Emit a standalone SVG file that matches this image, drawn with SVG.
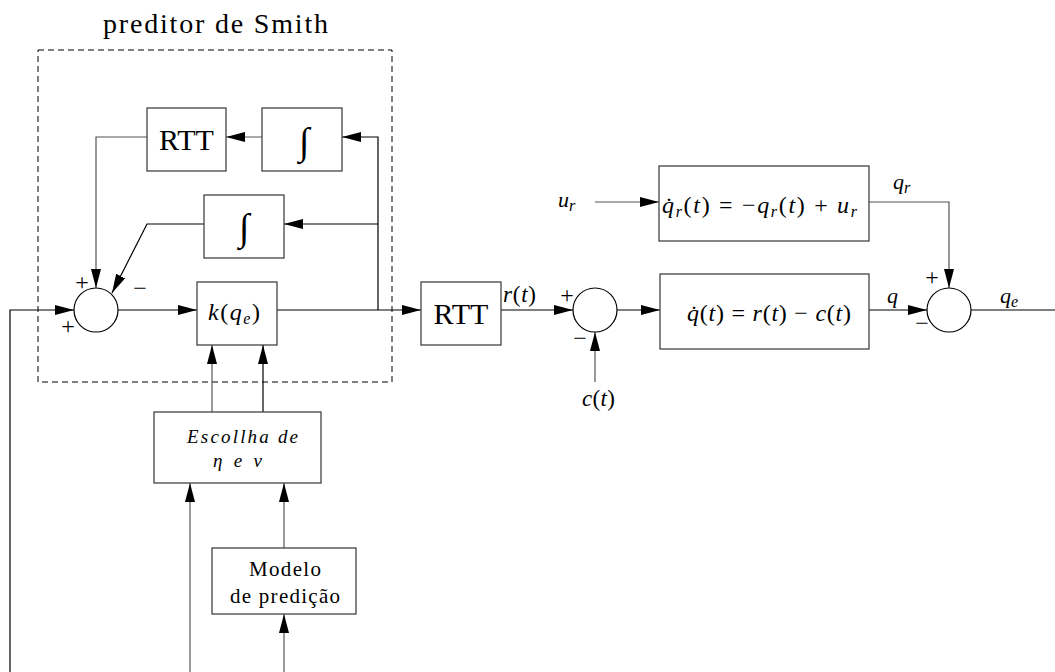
<svg xmlns="http://www.w3.org/2000/svg" width="1055" height="672" viewBox="0 0 1055 672">
<defs>
<style>
.box{fill:#fff;stroke:#444;stroke-width:1.3}
.ln{fill:none;stroke:#000;stroke-width:1.2}
.g{stroke:#555}
.t{font-family:"Liberation Serif","DejaVu Serif",serif;fill:#000}
.m{font-style:italic}
</style>
<marker id="ah" markerWidth="19" markerHeight="10" refX="19" refY="5" orient="auto" markerUnits="userSpaceOnUse">
<path d="M0,0 L19,5 L0,10 z" fill="#000"/>
</marker>
</defs>
<rect width="1055" height="672" fill="#fff"/>

<g id="smith-frame">
<rect x="38" y="50" width="354" height="332" fill="none" stroke="#000" stroke-width="1" stroke-dasharray="6,4"/>
<text class="t" x="103" y="33" font-size="28" textLength="225" lengthAdjust="spacing">preditor de Smith</text>
</g>

<g id="connectors">
<path class="ln" d="M10,672 V310 H74" marker-end="url(#ah)"/>
<path class="ln" d="M118,310 H197" marker-end="url(#ah)"/>
<path class="ln" d="M277,310 H421" marker-end="url(#ah)"/>
<path class="ln" d="M378,310 V137 H342" marker-end="url(#ah)"/>
<path class="ln" d="M378,224 H284" marker-end="url(#ah)"/>
<path class="ln g" d="M262,137 H226" marker-end="url(#ah)"/>
<path class="ln g" d="M147,137 H96 V288" marker-end="url(#ah)"/>
<path class="ln" d="M204,224 H147 L112,293" marker-end="url(#ah)"/>
<path class="ln g" d="M212,412 V345" marker-end="url(#ah)"/>
<path class="ln" d="M263,412 V345" marker-end="url(#ah)"/>
<path class="ln g" d="M190,672 V483" marker-end="url(#ah)"/>
<path class="ln g" d="M284,548 V483" marker-end="url(#ah)"/>
<path class="ln g" d="M284,672 V614" marker-end="url(#ah)"/>
<path class="ln" d="M501,310 H573" marker-end="url(#ah)"/>
<path class="ln g" d="M595,382 V332" marker-end="url(#ah)"/>
<path class="ln" d="M617,310 H660" marker-end="url(#ah)"/>
<path class="ln g" d="M595,202 H659" marker-end="url(#ah)"/>
<path class="ln g" d="M869,202 H949 V288" marker-end="url(#ah)"/>
<path class="ln" d="M869,310 H927" marker-end="url(#ah)"/>
<path class="ln" d="M971,310 H1055"/>
</g>

<g id="sum1">
<circle cx="96" cy="310" r="22" fill="#fff" stroke="#000" stroke-width="1.2"/>
<text class="t" x="82" y="290" font-size="24" text-anchor="middle" fill="#000">+</text>
<text class="t" x="68" y="334" font-size="24" text-anchor="middle" fill="#000">+</text>
<text class="t" x="140" y="296" font-size="24" text-anchor="middle" fill="#000">−</text>
</g>

<g id="rtt-inner">
<rect class="box" x="147" y="108" width="79" height="63"/>
<text class="t" x="186.5" y="150" font-size="30" text-anchor="middle">RTT</text>
</g>

<g id="int-top">
<rect class="box" x="262" y="108" width="80" height="63"/>
<text class="t m" x="304" y="154" font-size="38" text-anchor="middle">∫</text>
</g>

<g id="int-mid">
<rect class="box" x="204" y="195" width="80" height="63"/>
<text class="t m" x="244" y="240" font-size="38" text-anchor="middle">∫</text>
</g>

<g id="k">
<rect class="box" x="197" y="282" width="80" height="63"/>
<text class="t" x="208" y="320" font-size="24" textLength="52" lengthAdjust="spacing"><tspan class="m">k</tspan>(<tspan class="m">q</tspan><tspan class="m" font-size="16" dy="4">e</tspan><tspan dy="-4">)</tspan></text>
</g>

<g id="escolha">
<rect class="box" x="154" y="412" width="167" height="71"/>
<text class="t m" x="187" y="443" font-size="19" textLength="111" lengthAdjust="spacing">Escollha de</text>
<text class="t m" x="213" y="467" font-size="19" textLength="49" lengthAdjust="spacing">η e ν</text>
</g>

<g id="modelo">
<rect class="box" x="212" y="548" width="144" height="66"/>
<text class="t" x="249" y="576" font-size="21" textLength="72" lengthAdjust="spacing">Modelo</text>
<text class="t" x="230" y="603" font-size="21" textLength="110" lengthAdjust="spacing">de predição</text>
</g>

<g id="rtt-main">
<rect class="box" x="421" y="282" width="80" height="63"/>
<text class="t" x="461" y="324" font-size="30" text-anchor="middle">RTT</text>
<text class="t" x="503" y="302" font-size="23" textLength="33" lengthAdjust="spacing"><tspan class="m">r</tspan>(<tspan class="m">t</tspan>)</text>
</g>

<g id="sum2">
<circle cx="595" cy="310" r="22" fill="#fff" stroke="#000" stroke-width="1.2"/>
<text class="t" x="567" y="303" font-size="24" text-anchor="middle" fill="#000">+</text>
<text class="t" x="580" y="346" font-size="24" text-anchor="middle" fill="#000">−</text>
<text class="t" x="582" y="406" font-size="23" textLength="33" lengthAdjust="spacing"><tspan class="m">c</tspan>(<tspan class="m">t</tspan>)</text>
</g>

<g id="ref-model">
<rect class="box" x="659" y="166" width="210" height="75"/>
<text class="t" x="662" y="213" font-size="24" textLength="195" lengthAdjust="spacing"><tspan class="m">q̇</tspan><tspan class="m" font-size="16" dy="4">r</tspan><tspan dy="-4">(</tspan><tspan class="m">t</tspan>) = −<tspan class="m">q</tspan><tspan class="m" font-size="16" dy="4">r</tspan><tspan dy="-4">(</tspan><tspan class="m">t</tspan>) + <tspan class="m">u</tspan><tspan class="m" font-size="16" dy="4">r</tspan></text>
<text class="t" x="558" y="207" font-size="22"><tspan class="m">u</tspan><tspan class="m" font-size="16" dy="4">r</tspan></text>
<text class="t" x="893" y="189" font-size="22"><tspan class="m">q</tspan><tspan class="m" font-size="16" dy="4">r</tspan></text>
</g>

<g id="queue">
<rect class="box" x="660" y="274" width="209" height="75"/>
<text class="t" x="687" y="321" font-size="24" textLength="164" lengthAdjust="spacing"><tspan class="m">q̇</tspan>(<tspan class="m">t</tspan>) = <tspan class="m">r</tspan>(<tspan class="m">t</tspan>) − <tspan class="m">c</tspan>(<tspan class="m">t</tspan>)</text>
<text class="t m" x="887" y="303" font-size="22">q</text>
</g>

<g id="sum3">
<circle cx="949" cy="310" r="22" fill="#fff" stroke="#000" stroke-width="1.2"/>
<text class="t" x="932" y="285" font-size="24" text-anchor="middle" fill="#000">+</text>
<text class="t" x="922" y="331" font-size="24" text-anchor="middle" fill="#000">−</text>
<text class="t" x="1000" y="303" font-size="22"><tspan class="m">q</tspan><tspan class="m" font-size="16" dy="4">e</tspan></text>
</g>
</svg>
